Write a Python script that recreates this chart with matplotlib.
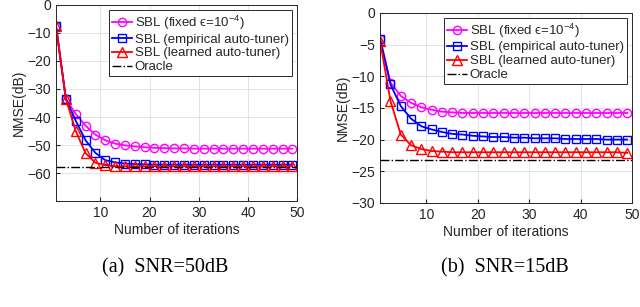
import numpy as np
import matplotlib
matplotlib.use("Agg")
import matplotlib.pyplot as plt

iters = list(range(1, 50, 2))  # 1,3,...,49

# (a) SNR = 50 dB
a_fixed = [-7.5, -33.5, -38.9, -43.1, -46.3, -48.3, -49.5, -50.1, -50.5, -50.8,
           -51.0, -51.1, -51.2, -51.2, -51.3, -51.3, -51.3, -51.3, -51.3, -51.3,
           -51.3, -51.3, -51.3, -51.3, -51.3]
a_emp = [-7.5, -33.5, -41.3, -48.3, -52.8, -55.4, -56.2, -56.6, -56.8, -56.9,
         -57.0, -57.0, -57.0, -57.0, -57.0, -57.0, -57.0, -57.0, -57.0, -57.0,
         -57.0, -57.0, -57.0, -57.0, -57.0]
a_learn = [-7.5, -33.5, -45.0, -52.9, -56.3, -57.2, -57.5, -57.6, -57.6, -57.6,
           -57.6, -57.6, -57.6, -57.6, -57.6, -57.6, -57.6, -57.6, -57.6, -57.6,
           -57.6, -57.6, -57.6, -57.6, -57.6]
a_oracle = -58.0

# (b) SNR = 15 dB
b_fixed = [-4.1, -11.0, -13.1, -14.2, -14.9, -15.3, -15.6, -15.7, -15.8, -15.8,
           -15.8, -15.8, -15.8, -15.8, -15.8, -15.8, -15.8, -15.8, -15.8, -15.8,
           -15.8, -15.8, -15.8, -15.8, -15.8]
b_emp = [-4.1, -11.3, -14.7, -16.7, -17.9, -18.4, -18.8, -19.1, -19.2, -19.4,
         -19.5, -19.6, -19.6, -19.7, -19.7, -19.8, -19.8, -19.8, -19.9, -19.9,
         -19.9, -19.9, -20.0, -20.0, -20.0]
b_learn = [-4.5, -13.9, -19.2, -20.9, -21.5, -21.8, -21.9, -22.0, -22.0, -22.0,
           -22.0, -22.0, -22.0, -22.0, -22.0, -22.0, -22.0, -22.0, -22.0, -22.0,
           -22.0, -22.0, -22.0, -22.0, -22.1]
b_oracle = -23.2

labels = ['SBL (fixed \u03f5=10$^{-4}$)', 'SBL (empirical auto-tuner)',
          'SBL (learned auto-tuner)', 'Oracle']
captions = ['(a)  SNR=50dB', '(b)  SNR=15dB']

plt.rcParams['font.family'] = ['Liberation Sans', 'DejaVu Sans']
plt.rcParams['mathtext.fontset'] = 'custom'
plt.rcParams['mathtext.rm'] = 'Liberation Sans'

fig = plt.figure(figsize=(6.4, 3.07), dpi=100)
ax1 = fig.add_axes([0.0875, 0.345, 0.377, 0.639])
ax2 = fig.add_axes([0.594, 0.339, 0.394, 0.619])

def draw(ax, fixed, emp, learn, oracle, ylim, yticks, caption, cx):
    ax.plot(iters, fixed, color='#ff00ff', marker='o', mfc='none', ms=6, lw=1.3, mew=1.0, label=labels[0])
    ax.plot(iters, emp, color='#0000ff', marker='s', mfc='none', ms=5.5, lw=1.3, mew=1.0, label=labels[1])
    ax.plot(iters, learn, color='#ff0000', marker='^', mfc='none', ms=6.5, lw=1.3, mew=1.0, label=labels[2])
    ax.plot([1, 50], [oracle, oracle], color='black', ls='-.', lw=1.0, label=labels[3])
    ax.set_xlim(1, 50)
    ax.set_ylim(*ylim)
    ax.set_xticks([10, 20, 30, 40, 50])
    ax.set_yticks(yticks)
    ax.grid(True, color='#e3e3e3', lw=0.7)
    ax.set_axisbelow(True)
    ax.tick_params(direction='in', labelsize=10, colors='#262626', length=3)
    for s in ax.spines.values():
        s.set_color('#262626')
        s.set_linewidth(0.7)
    ax.set_xlabel('Number of iterations', fontsize=10, color='#262626', labelpad=2)
    ax.set_ylabel('NMSE(dB)', fontsize=10, color='#262626', labelpad=1)
    leg = ax.legend(loc='upper right', fontsize=9.5, frameon=True, fancybox=False,
                    edgecolor='#262626', framealpha=1, handlelength=1.5,
                    handletextpad=0.2, borderpad=0.25, labelspacing=0.12,
                    borderaxespad=0.4)
    leg.get_frame().set_linewidth(0.7)
    for t in leg.get_texts():
        t.set_color('#262626')
    fig.text(cx, 1 - 268 / 307, caption, ha='center', va='center',
             fontsize=14.5, family='Liberation Serif')

draw(ax1, a_fixed, a_emp, a_learn, a_oracle, (-70, 0), [-60, -50, -40, -30, -20, -10, 0], captions[0], 165 / 640)
draw(ax2, b_fixed, b_emp, b_learn, b_oracle, (-30, 0), [-30, -25, -20, -15, -10, -5, 0], captions[1], 505 / 640)

fig.savefig('out.png', dpi=100)
